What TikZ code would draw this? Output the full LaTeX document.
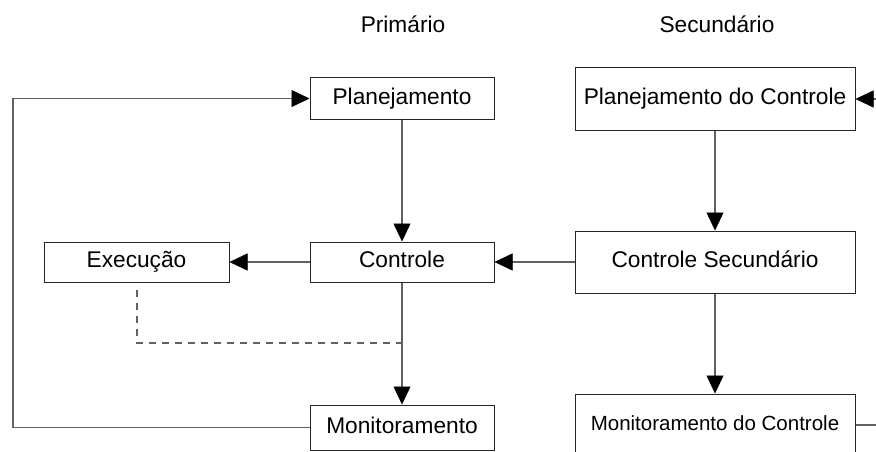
\documentclass[tikz,border=0pt]{standalone}
\usepackage{fontspec}
\setmainfont{Liberation Sans}
\usetikzlibrary{arrows.meta}
\begin{document}
\begin{tikzpicture}[x=1pt,y=-1pt,
  box/.style={draw=black!85,line width=1pt,inner sep=0pt,
    font=\fontsize{22.7}{27}\selectfont,text height=16.6pt,text depth=4.8pt},
  smallbox/.style={box,font=\fontsize{20.5}{24}\selectfont,text height=15pt,text depth=4.3pt},
  title/.style={font=\fontsize{22.7}{27}\selectfont,anchor=base,inner sep=0pt},
  conn/.style={draw=black!62,line width=1.3pt},
  arr/.style={conn,-{Triangle[length=18pt,width=17pt,color=black,fill=black,line width=0.5pt]}},
  dashline/.style={draw=black!62,line width=1.2pt,dash pattern=on 7pt off 6pt}]
\useasboundingbox (0,0) rectangle (876,452);
\fill[white] (0,0) rectangle (876,452);

\node[title] (tp) at (403,33) {Primário};
\node[title] (ts) at (717,33) {Secundário};

\node[box,minimum width=184pt,minimum height=41pt] (plan) at (402,98.5) {Planejamento};
\node[box,minimum width=184pt,minimum height=40pt] (ctrl) at (402,262) {Controle};
\node[box,minimum width=185pt,minimum height=40pt] (exec) at (136.5,262) {Execução};
\node[box,minimum width=184pt,minimum height=45pt] (mon) at (402,427.5) {Monitoramento};

\node[box,minimum width=280pt,minimum height=62pt] (plctl) at (715,99) {Planejamento do Controle};
\node[box,minimum width=280pt,minimum height=62pt] (ctlsec) at (715,262) {Controle Secundário};
\node[smallbox,minimum width=280pt,minimum height=62pt] (monctl) at (715,425) {Monitoramento do Controle};

\coordinate (lb) at (13,427.5);
\coordinate (lt) at (13,98.5);
\coordinate (rin) at (880,99);
\coordinate (rout) at (880,425);
\coordinate (d0) at (137,290);
\coordinate (d1) at (137,343);
\coordinate (d2) at (402,343);

\draw[arr] (plan.south) -- (ctrl.north);
\draw[arr] (ctrl.south) -- (mon.north);
\draw[arr] (ctrl.west) -- (exec.east);
\draw[arr] (ctlsec.west) -- (ctrl.east);
\draw[arr] (plctl.south) -- (ctlsec.north);
\draw[arr] (ctlsec.south) -- (monctl.north);
\draw[arr] (mon.west) -- (lb) -- (lt) -- (plan.west);
\draw[arr] (rin) -- (plctl.east);
\draw[conn] (monctl.east) -- (rout);
\draw[dashline] (d0) -- (d1) -- (d2);
\end{tikzpicture}
\end{document}
